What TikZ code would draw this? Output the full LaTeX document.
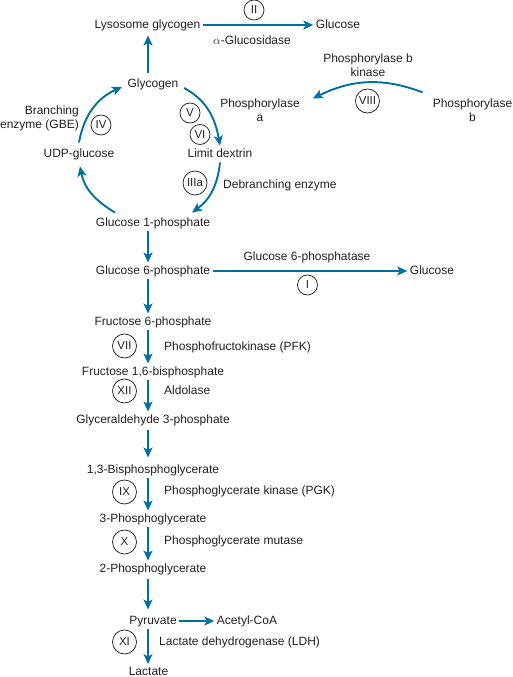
\documentclass[tikz,border=0pt]{standalone}
\usepackage{fontspec}
\setmainfont{Liberation Sans}
\usepackage{tikz}
\usetikzlibrary{arrows.meta,calc}
\definecolor{FlowBlue}{RGB}{0,112,160}
\definecolor{InkGray}{RGB}{35,31,32}

\begin{document}
\begin{tikzpicture}[x=1pt, y=1pt,
	font=\fontsize{12}{14}\selectfont, text=InkGray,
	met/.style={inner sep=2.5pt, text height=9pt, text depth=2.5pt},
	note/.style={inner sep=0pt, align=center},
	enz/.style={circle, draw=InkGray, line width=0.75pt, inner sep=1pt, minimum size=20pt, font=\fontsize{11.5}{12}\selectfont},
	enzbig/.style={enz, minimum size=24pt},
	flow/.style={FlowBlue, line width=1.9pt, -{Stealth[length=10pt, width=9pt, inset=2.5pt]}}]
	\useasboundingbox (0,0) rectangle (513,-677);
	\coordinate (axis) at (148,0);
	\node[met] (lyso) at (147.5,-25) {Lysosome glycogen};
	\node[met] (glcA) at (338,-25) {Glucose};
	\node[met] (glycogen) at (153,-84) {Glycogen};
	\node[met] (udpg) at (79,-154) {UDP-glucose};
	\node[met] (ldex) at (220,-154) {Limit dextrin};
	\node[met] (g1p) at (153,-223) {Glucose 1-phosphate};
	\node[met] (g6p) at (153,-271) {Glucose 6-phosphate};
	\node[met] (glcB) at (432,-271) {Glucose};
	\node[met] (f6p) at (153,-322) {Fructose 6-phosphate};
	\node[met] (f16bp) at (153,-372) {Fructose 1,6-bisphosphate};
	\node[met] (ga3p) at (153,-420) {Glyceraldehyde 3-phosphate};
	\node[met] (bpg) at (153,-470) {1,3-Bisphosphoglycerate};
	\node[met] (pg3) at (153,-519) {3-Phosphoglycerate};
	\node[met] (pg2) at (153,-569) {2-Phosphoglycerate};
	\node[met] (pyr) at (153,-621) {Pyruvate};
	\node[met] (acoa) at (247,-621) {Acetyl-CoA};
	\node[met] (lact) at (148.5,-672.5) {Lactate};
	% enzymes
	\node[met] (glcase) at (252,-41) {$\alpha$-Glucosidase};
	\node[note] (pbk) at (368,-65.5) {Phosphorylase b\\kinase};
	\node[note] (pha) at (260,-110) {Phosphorylase\\a};
	\node[note] (phb) at (472.5,-110) {Phosphorylase\\b};
	\node[note, align=right, anchor=east] (gbe) at (79,-118) {Branching\\enzyme (GBE)};
	\node[met, anchor=west] (debr) at (220.5,-185) {Debranching enzyme};
	\node[met] (g6pase) at (307,-257) {Glucose 6-phosphatase};
	\node[met, anchor=west] (pfk) at (161.5,-347) {Phosphofructokinase (PFK)};
	\node[met, anchor=west] (aldo) at (161.5,-391) {Aldolase};
	\node[met, anchor=west] (pgk) at (161.5,-491) {Phosphoglycerate kinase (PGK)};
	\node[met, anchor=west] (pgm) at (161.5,-541) {Phosphoglycerate mutase};
	\node[met, anchor=west] (ldh) at (156.5,-642) {Lactate dehydrogenase (LDH)};
	\node[enz] (eII) at (254,-10) {II};
	\node[enzbig] (eVIII) at (367.5,-101) {VIII};
	\node[enz] (eIV) at (101,-125) {IV};
	\node[enz] (eV) at (190,-113) {V};
	\node[enz] (eVI) at (200,-134.5) {VI};
	\node[enzbig] (eIIIa) at (195,-183) {IIIa};
	\node[enz] (eI) at (307.5,-285) {I};
	\node[enzbig] (eVII) at (124.5,-346) {VII};
	\node[enzbig] (eXII) at (124.5,-391) {XII};
	\node[enzbig] (eIX) at (124.5,-492) {IX};
	\node[enzbig] (eX) at (124.5,-542) {X};
	\node[enzbig] (eXI) at (124.5,-642) {XI};
	% arrows
	\draw[flow] ([yshift=3pt]glycogen.north -| axis) -- ([yshift=-2pt]lyso.south -| axis);
	\draw[flow] (lyso) -- (glcA);
	\draw[flow] ([yshift=3pt]udpg.north) to[out=80, in=204] ([yshift=-3pt, xshift=-3pt]glycogen.west);
	\draw[flow] ([xshift=3pt, yshift=-4pt]glycogen.east) to[out=-28, in=100] (ldex.north);
	\draw[flow] (ldex.south) to[out=-96, in=36] ([xshift=39pt, yshift=2pt]g1p.north);
	\draw[flow] ([xshift=-38pt, yshift=2pt]g1p.north) to[out=149, in=-79] ([xshift=1pt, yshift=-4pt]udpg.south);
	\draw[flow] ([xshift=-10pt, yshift=6pt]phb.north west) to[out=159, in=26] ([xshift=13pt]pha.north east);
	\draw[flow] (g1p.south -| axis) -- (g6p.north -| axis);
	\draw[flow] (g6p) -- (glcB);
	\draw[flow] (g6p.south -| axis) -- (f6p.north -| axis);
	\draw[flow] (f6p.south -| axis) -- (f16bp.north -| axis);
	\draw[flow] (f16bp.south -| axis) -- (ga3p.north -| axis);
	\draw[flow] ([yshift=-2pt]ga3p.south -| axis) -- ([yshift=4pt]bpg.north -| axis);
	\draw[flow] (bpg.south -| axis) -- (pg3.north -| axis);
	\draw[flow] (pg3.south -| axis) -- (pg2.north -| axis);
	\draw[flow] ([yshift=-2pt]pg2.south -| axis) -- ([yshift=3pt]pyr.north -| axis);
	\draw[flow] (pyr) -- (acoa);
	\draw[flow] (pyr.south -| axis) -- (lact.north -| axis);
\end{tikzpicture}
\end{document}
